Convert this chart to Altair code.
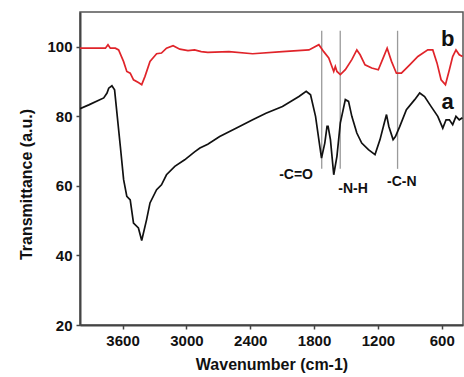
import altair as alt
import pandas as pd

# Curve a (black)
a_wn = [4000, 3917, 3777, 3746, 3730, 3700, 3675, 3653, 3621, 3590, 3560, 3528, 3497, 3451, 3420,
        3374, 3342, 3280, 3234, 3187, 3109, 3016, 2923, 2873, 2799, 2687, 2501, 2377, 2252, 2097,
        1942, 1874, 1833, 1786, 1755, 1730, 1699, 1678, 1668, 1646, 1615, 1585, 1553, 1506, 1476,
        1445, 1398, 1352, 1289, 1227, 1180, 1140, 1119, 1097, 1057, 1035, 994, 932, 854, 807,
        761, 699, 637, 590, 559, 528, 497, 466, 435, 405]
a_t = [82.2, 83.3, 85.3, 86.7, 88.1, 88.8, 87.6, 81.0, 71.4, 61.8, 57.0, 56.0, 49.3, 47.9, 44.3,
       50.3, 55.1, 58.9, 60.3, 63.2, 65.6, 67.5, 69.8, 70.9, 72.0, 74.2, 77.1, 79.0, 80.9, 82.8,
       85.7, 87.2, 86.2, 80.0, 73.3, 68.0, 72.3, 77.1, 77.1, 73.3, 63.2, 68.5, 78.1, 84.8, 84.3,
       80.0, 75.2, 72.3, 70.4, 69.0, 73.3, 78.1, 80.5, 77.1, 73.3, 74.2, 77.1, 81.9, 84.8, 86.7,
       85.7, 82.8, 80.0, 76.6, 79.0, 79.0, 77.6, 80.0, 79.0, 79.6]

# Curve b (red)
b_wn = [4000, 3761, 3737, 3715, 3668, 3637, 3591, 3560, 3528, 3497, 3451, 3420, 3389, 3342, 3280,
        3234, 3187, 3125, 3062, 2985, 2923, 2861, 2799, 2600, 2377, 2097, 1848, 1755, 1709, 1662,
        1615, 1600, 1585, 1553, 1506, 1445, 1398, 1367, 1321, 1258, 1196, 1150, 1113, 1072, 1026,
        979, 901, 824, 731, 684, 644, 606, 565, 528, 497, 466, 435, 404]
b_t = [99.6, 99.6, 100.6, 99.6, 99.6, 99.1, 95.8, 92.9, 92.4, 90.5, 89.7, 89.1, 91.5, 95.8, 98.0,
       98.2, 99.6, 100.3, 99.3, 98.9, 99.1, 98.6, 98.4, 98.6, 98.0, 98.6, 99.1, 100.6, 98.6, 96.8,
       92.9, 94.3, 92.9, 92.0, 93.4, 96.3, 99.1, 97.7, 94.8, 93.9, 93.4, 96.8, 99.6, 95.8, 92.4,
       92.4, 94.8, 97.2, 99.1, 99.1, 95.3, 90.5, 89.1, 93.4, 97.2, 99.1, 97.7, 97.2]

# Marker lines and labels
line_wn = [1728, 1554, 1015]
line_top = [104.6, 104.6, 104.6]
line_bot = [64.9, 64.9, 64.9]

lab_text = ["-C=O", "-N-H", "-C-N"]
lab_wn = [1969, 1434, 975]
lab_t = [63.2, 59.0, 61.0]

curve_text = ["b", "a"]
curve_wn = [544, 544]
curve_t = [102.2, 84.2]

df = pd.concat([
    pd.DataFrame({"wn": a_wn, "t": a_t, "s": "a"}),
    pd.DataFrame({"wn": b_wn, "t": b_t, "s": "b"}),
])
lines_df = pd.DataFrame({"wn": line_wn, "t1": line_top, "t2": line_bot})
lab_df = pd.DataFrame({"txt": lab_text, "wn": lab_wn, "t": lab_t})
cur_df = pd.DataFrame({"txt": curve_text, "wn": curve_wn, "t": curve_t})

FONT = "Liberation Sans"

xscale = alt.Scale(domain=[400, 4000], reverse=True, nice=False, zero=False)
yscale = alt.Scale(domain=[20, 110], nice=False, zero=False)

xaxis = alt.Axis(
    title="Wavenumber (cm-1)",
    values=list(range(3900, 399, -300)),
    labelExpr="datum.value % 600 == 0 ? datum.label : ''",
    format="d",
    grid=False, domainColor="#444", domainWidth=2, tickColor="#444", tickWidth=1.5,
    tickSize=4, labelFont=FONT, labelFontSize=15, labelFontWeight="bold", labelColor="#111",
    labelPadding=4, titleFont=FONT, titleFontSize=16, titleFontWeight="bold", titleColor="#111",
    titlePadding=8,
)
yaxis = alt.Axis(
    title="Transmittance (a.u.)",
    values=list(range(20, 101, 10)),
    labelExpr="datum.value % 20 == 0 ? datum.label : ''",
    grid=False, domainColor="#444", domainWidth=2, tickColor="#444", tickWidth=1.5,
    tickSize=4, labelFont=FONT, labelFontSize=15, labelFontWeight="bold", labelColor="#111",
    labelPadding=4, titleFont=FONT, titleFontSize=16, titleFontWeight="bold", titleColor="#111",
    titlePadding=12, titleY=172,
)

curves = alt.Chart(df).mark_line(clip=True, strokeWidth=1.7).encode(
    x=alt.X("wn:Q", scale=xscale, axis=xaxis),
    y=alt.Y("t:Q", scale=yscale, axis=yaxis),
    color=alt.Color("s:N", scale=alt.Scale(domain=["a", "b"], range=["#111111", "#e0242a"]), legend=None),
    order=alt.Order("idx:Q"),
).transform_window(idx="row_number()", groupby=["s"])

vlines = alt.Chart(lines_df).mark_rule(color="#9a9a9a", strokeWidth=1.3).encode(
    x=alt.X("wn:Q", scale=xscale), y=alt.Y("t1:Q", scale=yscale), y2="t2:Q"
)

labels = alt.Chart(lab_df).mark_text(font=FONT, fontSize=14, fontWeight="bold", color="#111").encode(
    x=alt.X("wn:Q", scale=xscale), y=alt.Y("t:Q", scale=yscale), text="txt:N"
)

clabels = alt.Chart(cur_df).mark_text(font=FONT, fontSize=22, fontWeight="bold", color="#111").encode(
    x=alt.X("wn:Q", scale=xscale), y=alt.Y("t:Q", scale=yscale), text="txt:N"
)

chart = alt.layer(vlines, curves, labels, clabels).properties(
    width=383, height=313,
    padding={"left": 80, "top": 12, "right": 1, "bottom": 52},
    autosize=alt.AutoSizeParams(type="none"),
    background="white",
).configure_view(stroke="#555", strokeWidth=1.5)

chart.save("out.html", embed_options={"renderer": "svg", "actions": False})
